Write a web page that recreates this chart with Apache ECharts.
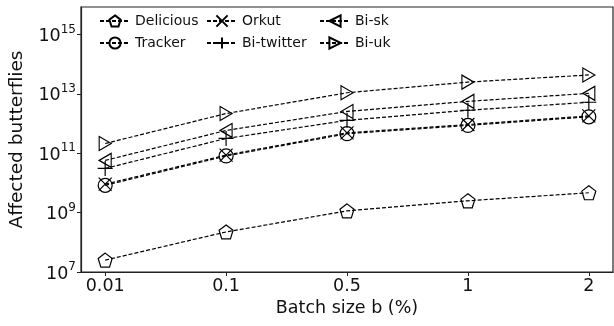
<html>
  <head>
    <meta charset="UTF-8" />
    <script src="https://cdn.jsdelivr.net/npm/echarts@6/dist/echarts.min.js"></script>
    <title>affected butterflies</title>
    <style>
      html, body { margin: 0; padding: 0; background: #fff; }
      #main { width: 614px; height: 326px; }
    </style>
  </head>
  <body>
    <div id="main"></div>
    <script>
      // batch sizes (x categories)
      const batchSizes = ['0.01', '0.1', '0.5', '1', '2'];
      // y tick values (log axis)
      const yTicks = [1e7, 1e9, 1e11, 1e13, 1e15];

      // log10 of affected butterflies
      const delicious = [7.40, 8.35, 9.06, 9.40, 9.67];
      const tracker   = [9.92, 10.91, 11.66, 11.94, 12.23];
      const orkut     = [9.96, 10.94, 11.69, 11.97, 12.26];
      const biTwitter = [10.49, 11.50, 12.11, 12.45, 12.72];
      const biSk      = [10.76, 11.77, 12.41, 12.75, 13.02];
      const biUk      = [11.33, 12.34, 13.04, 13.40, 13.64];

      const symbols = {
        Delicious: 'path://M0,-10 L9.51,-3.09 L5.88,8.09 L-5.88,8.09 L-9.51,-3.09 Z',
        Tracker: 'circle',
        Orkut: 'path://M-1,-1 L1,1 M-1,1 L1,-1',
        'Bi-twitter': 'path://M0,-1 L0,1 M-1,0 L1,0',
        'Bi-sk': 'path://M-1,0 L1,-1 L1,1 Z',
        'Bi-uk': 'path://M1,0 L-1,-1 L-1,1 Z'
      };
      const sizes = {
        Delicious: 14, Tracker: 14, Orkut: 13,
        'Bi-twitter': 15, 'Bi-sk': [12, 14], 'Bi-uk': [12, 14]
      };

      function mk(name, logs) {
        return {
          name: name,
          type: 'line',
          data: logs.map((v, i) => [i, Math.pow(10, v)]),
          symbol: symbols[name],
          symbolSize: sizes[name],
          showAllSymbol: true,
          lineStyle: { color: '#000', width: 1.2, type: [4, 2] },
          itemStyle: { color: 'transparent', borderColor: '#000', borderWidth: 1.2 },
          emphasis: { disabled: true },
          animation: false
        };
      }

      const legendText = { fontSize: 14, color: '#111', fontFamily: 'DejaVu Sans' };
      function legend(names, left) {
        return {
          data: names,
          orient: 'vertical',
          left: left,
          top: 9,
          itemWidth: 30,
          itemHeight: 14,
          itemGap: 8,
          textStyle: legendText,
          selectedMode: false
        };
      }

      const chart = echarts.init(document.getElementById('main'));
      chart.setOption({
        animation: false,
        textStyle: { fontFamily: 'DejaVu Sans' },
        legend: [
          legend(['Delicious', 'Tracker'], 94),
          legend(['Orkut', 'Bi-twitter'], 201),
          legend(['Bi-sk', 'Bi-uk'], 314)
        ],
        grid: {
          left: 81, right: 1, top: 7, bottom: 54,
          outerBoundsMode: 'none',
          containLabel: false,
          show: true, borderColor: '#222', borderWidth: 1.2
        },
        xAxis: {
          type: 'value',
          min: -0.2,
          max: 4.2,
          name: 'Batch size b (%)',
          nameLocation: 'middle',
          nameGap: 27,
          nameTextStyle: { fontSize: 17.5, color: '#111' },
          splitLine: { show: false },
          axisLine: { onZero: false, lineStyle: { color: '#222', width: 1.2 } },
          axisTick: { customValues: [0, 1, 2, 3, 4], length: 4, lineStyle: { color: '#222' } },
          axisLabel: {
            customValues: [0, 1, 2, 3, 4],
            fontSize: 17.5, color: '#111', margin: 5,
            formatter: v => batchSizes[Math.round(v)]
          }
        },
        yAxis: {
          type: 'log',
          logBase: 10,
          min: 1e7,
          max: Math.pow(10, 15.93),
          name: 'Affected butterflies',
          nameLocation: 'middle',
          nameGap: 54,
          nameTextStyle: { fontSize: 18.5, color: '#111' },
          splitLine: { show: false },
          axisLine: { onZero: false, lineStyle: { color: '#222', width: 1.2 } },
          axisTick: { customValues: yTicks, length: 4, lineStyle: { color: '#222' } },
          axisLabel: {
            customValues: yTicks,
            margin: 5,
            formatter: v => '{b|10}{s|' + Math.round(Math.log10(v)) + '}',
            rich: {
              b: { fontSize: 17.5, color: '#111', verticalAlign: 'bottom', lineHeight: 22 },
              s: { fontSize: 12, color: '#111', verticalAlign: 'top', lineHeight: 22 }
            }
          }
        },
        series: [
          mk('Delicious', delicious),
          mk('Tracker', tracker),
          mk('Orkut', orkut),
          mk('Bi-twitter', biTwitter),
          mk('Bi-sk', biSk),
          mk('Bi-uk', biUk)
        ]
      });
    </script>
  </body>
</html>
